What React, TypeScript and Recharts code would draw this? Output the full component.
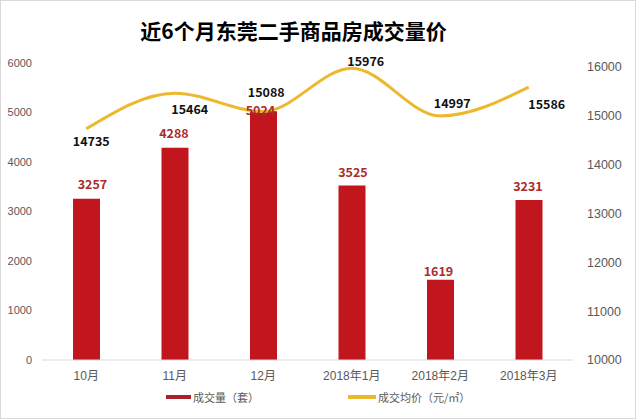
import React from 'react';
import { ComposedChart, Bar, Line, XAxis, YAxis, Legend } from 'recharts';

const months = ['10月', '11月', '12月', '2018年1月', '2018年2月', '2018年3月'];
const volumes = [3257, 4288, 5024, 3525, 1619, 3231];
const prices = [14735, 15464, 15088, 15976, 14997, 15586];
const leftTicks = [0, 1000, 2000, 3000, 4000, 5000, 6000];
const rightTicks = [10000, 11000, 12000, 13000, 14000, 15000, 16000];
const titleText = '近6个月东莞二手商品房成交量价';
const volumeName = '成交量（套）';
const priceName = '成交均价（元/㎡）';

// label placement offsets (dx, dy) relative to mark
const barLabelOffsets = [[6, -15], [-1, -15], [-3, -2], [1, -14], [-2, -9], [-1, -15]];
const lineLabelOffsets = [[5, 12], [15, 15], [3, -20], [14, -8], [12, -13], [18, 16]];

const data = months.map((m, i) => ({ month: m, volume: volumes[i], price: prices[i] }));

const BAR_COLOR = '#C1161E';
const LINE_COLOR = '#EDB82E';
const AXIS_TEXT = '#595959';
const FONT = '"Liberation Sans", "Noto Sans CJK SC", sans-serif';
const CJK = '"Noto Sans CJK SC", sans-serif';

const BarLabel = (props: any) => {
  const { x, y, width, value } = props;
  let idx = props.index;
  if (idx === undefined || idx === null) idx = volumes.indexOf(Number(value));
  const off = barLabelOffsets[idx] || [0, -15];
  return (
    <text
      x={Number(x) + Number(width) / 2 + off[0]}
      y={Number(y) + off[1]}
      textAnchor="middle"
      dominantBaseline="central"
      fill="#AA2C2C"
      fontSize={12.5}
      fontWeight="bold"
      fontFamily={CJK}
    >
      {value}
    </text>
  );
};

const LineLabel = (props: any) => {
  const { x, y, value } = props;
  let idx = props.index;
  if (idx === undefined || idx === null) idx = prices.indexOf(Number(value));
  const off = lineLabelOffsets[idx] || [0, -12];
  return (
    <text
      x={Number(x) + off[0]}
      y={Number(y) + off[1]}
      textAnchor="middle"
      dominantBaseline="central"
      fill="#111"
      fontSize={12.5}
      fontWeight="bold"
      fontFamily={CJK}
    >
      {value}
    </text>
  );
};

const LegendContent = () => (
  <div style={{ position: 'relative', width: 636, height: 0 }}>
    <div style={{ position: 'absolute', left: 166, top: 7, width: 25, height: 4, background: '#A8232A' }} />
    <div style={{ position: 'absolute', left: 193, top: 0, fontSize: 11, color: AXIS_TEXT, fontFamily: CJK, whiteSpace: 'nowrap', lineHeight: '18px' }}>
      {volumeName}
    </div>
    <div style={{ position: 'absolute', left: 348, top: 7, width: 28, height: 4, background: LINE_COLOR }} />
    <div style={{ position: 'absolute', left: 378, top: 0, fontSize: 11, color: AXIS_TEXT, fontFamily: CJK, whiteSpace: 'nowrap', lineHeight: '18px' }}>
      {priceName}
    </div>
  </div>
);

export default function App() {
  return (
    <div style={{ position: 'fixed', left: 0, top: 0, width: 636, height: 419, background: '#fff' }}>
      <div
        style={{
          position: 'absolute',
          left: 0,
          top: 0,
          width: 636,
          textAlign: 'center',
          fontFamily: CJK,
        }}
      />
      <ComposedChart
        width={636}
        height={419}
        data={data}
        margin={{ top: 63, right: 0, bottom: 29, left: 0 }}
      >
        <text
          x={293.5}
          y={30}
          textAnchor="middle"
          dominantBaseline="central"
          fontSize={21}
          fontWeight="bold"
          fontFamily={CJK}
          fill="#000"
        >
          {titleText}
        </text>
        <XAxis
          dataKey="month"
          height={30}
          tickLine={false}
          tickMargin={5}
          axisLine={{ stroke: '#D9D9D9' }}
          tick={{ fill: AXIS_TEXT, fontSize: 12, fontFamily: FONT }}
          interval={0}
        />
        <YAxis
          yAxisId="left"
          orientation="left"
          width={42}
          domain={[0, 6000]}
          ticks={leftTicks}
          axisLine={false}
          tickLine={false}
          tickMargin={4}
          tick={{ fill: AXIS_TEXT, fontSize: 11, fontFamily: FONT }}
        />
        <YAxis
          yAxisId="right"
          orientation="right"
          width={63}
          domain={[10000, 16082]}
          ticks={rightTicks}
          axisLine={false}
          tickLine={false}
          tickMargin={8}
          tick={{ fill: AXIS_TEXT, fontSize: 12.5, fontFamily: FONT, textAnchor: 'start' }}
          allowDataOverflow
        />
        <Legend
          content={() => <LegendContent />}
          wrapperStyle={{ position: 'absolute', left: 0, top: 388, width: 636, height: 0 }}
        />
        <Bar
          yAxisId="left"
          dataKey="volume"
          name={volumeName}
          fill={BAR_COLOR}
          barSize={27}
          isAnimationActive={false}
          label={<BarLabel />}
        />
        <Line
          yAxisId="right"
          dataKey="price"
          name={priceName}
          type="monotone"
          stroke={LINE_COLOR}
          strokeWidth={3}
          dot={false}
          activeDot={false}
          isAnimationActive={false}
          label={<LineLabel />}
        />
      </ComposedChart>
      <div
        style={{
          position: 'absolute',
          left: 0,
          top: 0,
          width: 636,
          height: 419,
          boxSizing: 'border-box',
          border: '1px solid #D9D9D9',
          pointerEvents: 'none',
        }}
      />
    </div>
  );
}
